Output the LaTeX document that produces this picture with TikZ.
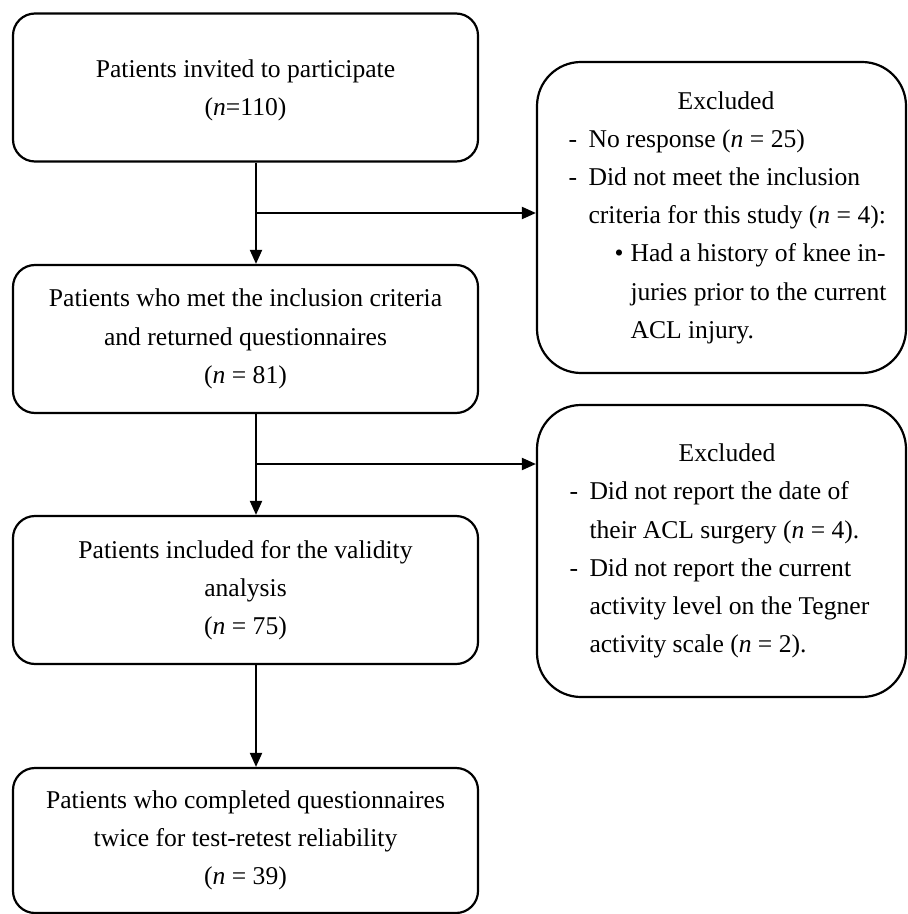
\documentclass[tikz,border=0pt]{standalone}
\usepackage{fontspec}
\setmainfont{Liberation Serif}
\usetikzlibrary{arrows.meta}

\tikzset{
  stagebox/.style={draw=black, line width=1.1pt, fill=white, rounded corners=11pt,
    minimum width=232.5pt, minimum height=74pt, align=center, inner sep=0pt},
  exclbox/.style={draw=black, line width=1.1pt, fill=white, rounded corners=22pt,
    minimum width=184.5pt, align=left, inner sep=0pt},
  flow/.style={-{Triangle[length=7pt, width=6pt]}, line width=1pt}
}
\newcommand{\nn}{\textit{n}}
\newcommand{\dashitem}{\hspace*{6pt}\makebox[10pt][l]{-}}
\newcommand{\exhead}{\makebox[164pt]{\hspace*{5.5pt}Excluded}}

\begin{document}
\begin{tikzpicture}[x=0.5pt, y=-0.5pt, font=\fontsize{12.8}{19.1}\selectfont]
  \useasboundingbox (0,0) rectangle (908,914);

  % main stages
  \node[stagebox] (invited) at (245.5, 87.5) {\\[-7pt]Patients invited to participate\\(\nn=110)};
  \node[stagebox] (met) at (245.5, 339) {Patients who met the inclusion criteria\\and returned questionnaires\\(\nn{} = 81)};
  \node[stagebox] (valid) at (245.5, 590) {Patients included for the validity\\analysis\\(\nn{} = 75)};
  \node[stagebox, minimum height=72.5pt] (retest) at (245.5, 840.5) {Patients who completed questionnaires\\twice for test-retest reliability\\(\nn{} = 39)};

  % exclusions
  \node[exclbox, minimum height=155.5pt] (excl1) at (721.5, 217.5) {%
    \exhead\\
    \dashitem No response (\nn{} = 25)\\
    \dashitem Did not meet the inclusion\\
    \hspace*{16pt}criteria for this study (\nn{} = 4):\\
    \hspace*{29pt}\makebox[8pt][l]{\textbullet}Had a history of knee in-\\
    \hspace*{37pt}juries prior to the current\\
    \hspace*{37pt}ACL injury.};
  \node[exclbox, minimum height=146pt] (excl2) at (721.5, 551) {%
    \exhead\\
    \dashitem Did not report the date of\\
    \hspace*{16pt}their ACL surgery (\nn{} = 4).\\
    \dashitem Did not report the current\\
    \hspace*{16pt}activity level on the Tegner\\
    \hspace*{16pt}activity scale (\nn{} = 2).};

  % junctions on the main line
  \coordinate (j1) at (256, 213);
  \coordinate (j2) at (256, 464);

  \draw[flow] (invited.south -| j1) -- (met.north -| j1);
  \draw[flow] (met.south -| j1) -- (valid.north -| j1);
  \draw[flow] (valid.south -| j1) -- (retest.north -| j1);
  \draw[flow] (j1) -- (j1 -| excl1.west);
  \draw[flow] (j2) -- (j2 -| excl2.west);
\end{tikzpicture}
\end{document}
